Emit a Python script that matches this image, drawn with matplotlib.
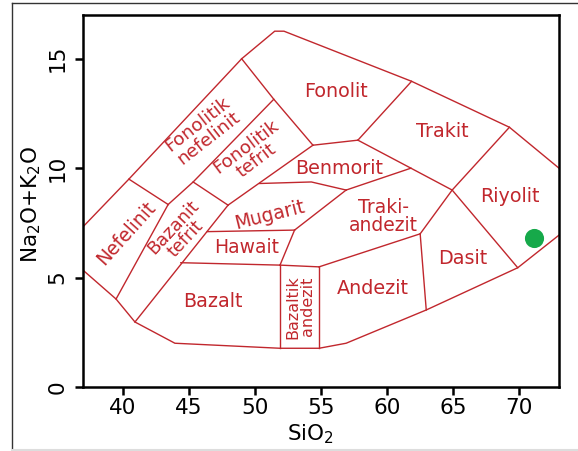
import matplotlib
matplotlib.use("Agg")
import matplotlib.pyplot as plt
from matplotlib.lines import Line2D

# --- TAS field boundaries (SiO2 wt%, Na2O+K2O wt%) ---
outer_upper = [(37.0, 7.32), (40.47, 9.5), (49.0, 15.0), (51.5, 16.26), (52.2, 16.26),
               (61.85, 13.97), (69.25, 11.87), (73.0, 10.0)]
outer_lower = [(37.0, 5.34), (39.5, 4.02), (40.93, 2.97), (43.95, 2.0), (51.9, 1.77),
               (54.85, 1.77), (56.9, 2.0), (62.96, 3.52), (69.88, 5.45), (73.0, 6.94)]
nefelinit_div = [(39.5, 4.02), (43.44, 8.34)]
nefelinit_top = [(40.47, 9.5), (43.44, 8.34)]
fon_nef_lower = [(43.44, 8.34), (45.33, 9.37), (51.43, 13.15)]
fonolit_left = [(49.0, 15.0), (51.43, 13.15), (54.39, 11.05)]
bazanit_top = [(45.33, 9.37), (47.97, 8.31)]
bazanit_right = [(40.93, 2.97), (47.97, 8.31)]
fon_tef_lower = [(47.97, 8.31), (54.39, 11.05)]
fonolit_lower = [(54.39, 11.05), (57.79, 11.28)]
fonolit_trakit = [(57.79, 11.28), (61.85, 13.97)]
trakit_lower = [(57.79, 11.28), (61.8, 10.0), (64.92, 9.0)]
trakit_riyolit = [(64.92, 9.0), (69.25, 11.87)]
riyolit_dasit = [(64.92, 9.0), (69.88, 5.45)]
trakiandezit_dasit = [(64.92, 9.0), (62.5, 7.0)]
dasit_andezit = [(62.5, 7.0), (62.96, 3.52)]
andezit_top = [(54.85, 5.49), (62.5, 7.0)]
benmorit_lower = [(56.9, 9.0), (61.8, 10.0)]
mugarit_top = [(50.37, 9.3), (54.27, 9.37), (56.9, 9.0)]
mugarit_right = [(56.9, 9.0), (53.0, 7.17)]
hawait_right = [(53.0, 7.17), (51.9, 5.57)]
hawait_mugarit = [(46.4, 7.1), (53.0, 7.17)]
bazalt_top = [(44.4, 5.68), (51.9, 5.57)]
baz_andezit_top = [(51.9, 5.57), (54.85, 5.49)]
baz_andezit_left = [(51.9, 5.57), (51.9, 1.77)]
baz_andezit_right = [(54.85, 5.49), (54.85, 1.77)]

boundaries = [outer_upper, outer_lower, nefelinit_div, nefelinit_top, fon_nef_lower,
              fonolit_left, bazanit_top, bazanit_right, fon_tef_lower, fonolit_lower,
              fonolit_trakit, trakit_lower, trakit_riyolit, riyolit_dasit,
              trakiandezit_dasit, dasit_andezit, andezit_top, benmorit_lower,
              mugarit_top, mugarit_right, hawait_right, hawait_mugarit, bazalt_top,
              baz_andezit_top, baz_andezit_left, baz_andezit_right]

# --- field names ---
field_names = ["Nefelinit", "Bazanit\ntefrit", "Fonolitik\nnefelinit", "Fonolitik\ntefrit",
               "Fonolit", "Trakit", "Benmorit", "Mugarit", "Traki-\nandezit", "Hawait",
               "Bazalt", "Bazaltik\nandezit", "Andezit", "Dasit", "Riyolit"]
field_x = [40.3, 44.3, 46.1, 49.75, 56.16, 64.2, 56.4, 51.1, 59.7, 49.36,
           46.84, 53.4, 58.93, 65.72, 69.25]
field_y = [7.02, 7.03, 11.7, 10.67, 13.5, 11.66, 9.99, 7.85, 7.78, 6.38,
           3.9, 3.67, 4.5, 5.88, 8.69]
field_rot = [48, 47, 38, 37, 0, 0, 0, 14, 0, 0, 0, 90, 0, 0, 0]
field_size = [13.5, 12.8, 13.2, 13.2, 13.8, 13.8, 13.8, 13.5, 13.5, 13.5, 13.8, 11.5, 13.8, 13.8, 13.8]

# --- sample ---
sample_sio2 = [71.09]
sample_alkali = [6.79]

x_ticks = [40, 45, 50, 55, 60, 65, 70]
y_ticks = [0, 5, 10, 15]

red = "#c1272d"

fig = plt.figure(figsize=(5.78, 4.51), dpi=100)
ax = fig.add_axes([83 / 578, 1 - 387 / 451, (559 - 83) / 578, (387 - 15) / 451])

for seg in boundaries:
    xs = [p[0] for p in seg]
    ys = [p[1] for p in seg]
    ax.plot(xs, ys, color=red, lw=1.0, solid_joinstyle="miter", clip_on=True)

for name, x, y, r, s in zip(field_names, field_x, field_y, field_rot, field_size):
    ax.text(x, y, name, color=red, fontsize=s, rotation=r, ha="center", va="center",
            linespacing=0.95, rotation_mode="anchor")

ax.scatter(sample_sio2, sample_alkali, s=190, color="#16a94a", zorder=5, linewidths=0)

ax.set_xlim(37, 73)
ax.set_ylim(0, 17)
ax.set_xticks(x_ticks)
ax.set_yticks(y_ticks)

for sp in ax.spines.values():
    sp.set_linewidth(1.8)
    sp.set_color("black")

ax.tick_params(axis="both", direction="out", length=6, width=1.8, labelsize=15.5,
               colors="black")
ax.tick_params(axis="x", pad=2)
ax.tick_params(axis="y", labelrotation=90, pad=5)
for lab in ax.get_yticklabels():
    lab.set_va("center")

ax.set_xlabel("SiO$_2$", fontsize=15.5)
ax.set_ylabel("Na$_2$O+K$_2$O", fontsize=15.5)
ax.xaxis.set_label_coords(0.477, -0.095)
ax.yaxis.set_label_coords(-0.085, 0.49)

# thin frame around the figure
fig.add_artist(Line2D([12 / 578, 1.0], [1 - 3 / 451, 1 - 3 / 451], transform=fig.transFigure,
                      color="#333333", lw=1.0))
fig.add_artist(Line2D([12 / 578, 12 / 578], [0.0, 1 - 3 / 451], transform=fig.transFigure,
                      color="#333333", lw=1.0))
fig.add_artist(Line2D([12 / 578, 1.0], [1.5 / 451, 1.5 / 451], transform=fig.transFigure,
                      color="#dddddd", lw=1.5))

fig.savefig("out.png", dpi=100)
